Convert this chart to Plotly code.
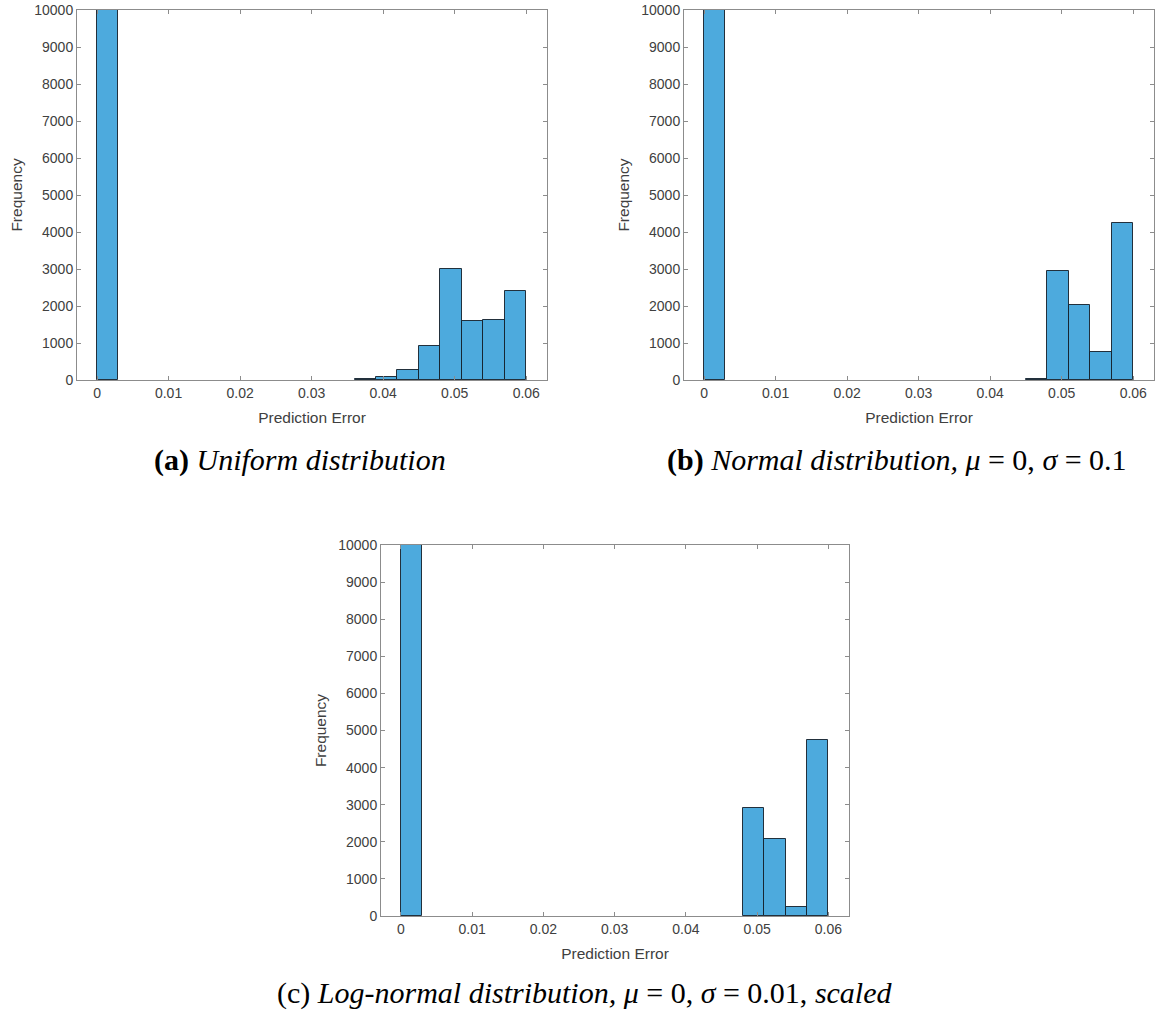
import plotly.graph_objects as go

# Histogram bins (left edges, width 0.003) shared by the three panels
bin_left = [0.000, 0.003, 0.006, 0.009, 0.012, 0.015, 0.018, 0.021, 0.024, 0.027,
            0.030, 0.033, 0.036, 0.039, 0.042, 0.045, 0.048, 0.051, 0.054, 0.057]
bin_width = 0.003

# Counts per bin
uniform_counts = [10000, 0, 0, 0, 0, 0, 0, 0, 0, 0,
                  0, 0, 25, 90, 270, 910, 3000, 1605, 1625, 2415]
normal_counts = [10000, 0, 0, 0, 0, 0, 0, 0, 0, 0,
                 0, 0, 0, 0, 0, 20, 2950, 2035, 750, 4240]
lognormal_counts = [10000, 0, 0, 0, 0, 0, 0, 0, 0, 0,
                    0, 0, 0, 0, 0, 0, 2920, 2065, 255, 4745]

x_ticks = [0, 0.01, 0.02, 0.03, 0.04, 0.05, 0.06]
x_tick_text = ["0", "0.01", "0.02", "0.03", "0.04", "0.05", "0.06"]
y_ticks = [0, 1000, 2000, 3000, 4000, 5000, 6000, 7000, 8000, 9000, 10000]
y_tick_text = ["0", "1000", "2000", "3000", "4000", "5000", "6000", "7000",
               "8000", "9000", "10000"]

captions = [
    "<b>(a)</b> <i>Uniform distribution</i>",
    "<b>(b)</b> <i>Normal distribution,</i> <i>μ</i> = 0, <i>σ</i> = 0.1",
    "(c) <i>Log-normal distribution,</i> <i>μ</i> = 0, <i>σ</i> = 0.01, <i>scaled</i>",
]

W, H = 1161, 1011
BAR_COLOR = "#4DAADD"
AXIS_COLOR = "#8c8c8c"
TEXT_COLOR = "#404040"
SANS = "Liberation Sans, Arial, sans-serif"
SERIF = "Liberation Serif, Times New Roman, serif"

# Plot-area boxes in pixels: (left, right, top, bottom)
boxes = [(77, 547, 10, 380), (684, 1154, 10, 380), (381, 849, 545, 916)]
series = [uniform_counts, normal_counts, lognormal_counts]

fig = go.Figure()

for i, (counts, (l, r, t, b)) in enumerate(zip(series, boxes), start=1):
    sfx = "" if i == 1 else str(i)
    # empty bins have no visible bar (and no outline)
    xs = [e + bin_width / 2 for e, c in zip(bin_left, counts) if c > 0]
    ys = [c for c in counts if c > 0]
    fig.add_trace(go.Bar(
        x=xs, y=ys, width=bin_width,
        marker=dict(color=BAR_COLOR, line=dict(color="rgba(20,30,40,0.9)", width=1)),
        xaxis="x" + sfx, yaxis="y" + sfx, showlegend=False,
    ))
    axis_common = dict(
        showline=True, linecolor=AXIS_COLOR, linewidth=1, mirror="allticks",
        ticks="inside", ticklen=4, tickcolor=AXIS_COLOR, showgrid=False,
        zeroline=False, tickfont=dict(family=SANS, size=14, color=TEXT_COLOR),
        automargin=False,
    )
    fig.layout["xaxis" + sfx] = dict(
        axis_common, domain=[l / W, r / W], anchor="y" + sfx,
        range=[-0.0028, 0.0629], tickvals=x_ticks, ticktext=x_tick_text,
        title=dict(text="Prediction Error", standoff=12,
                   font=dict(family=SANS, size=15.5, color=TEXT_COLOR)),
    )
    fig.layout["yaxis" + sfx] = dict(
        axis_common, domain=[1 - b / H, 1 - t / H], anchor="x" + sfx,
        range=[0, 10000], tickvals=y_ticks, ticktext=y_tick_text,
        title=dict(text="Frequency", standoff=7,
                   font=dict(family=SANS, size=15.5, color=TEXT_COLOR)),
    )

# Sub-figure captions
caption_pos = [(152, 460), (665, 460), (275, 993)]
for text, (cx, cy) in zip(captions, caption_pos):
    fig.add_annotation(
        text=text, xref="paper", yref="paper", x=cx / W, y=1 - cy / H,
        xanchor="left", yanchor="middle", showarrow=False,
        font=dict(family=SERIF, size=30, color="#000000"),
    )

fig.update_layout(
    width=W, height=H, margin=dict(l=0, r=0, t=0, b=0),
    paper_bgcolor="white", plot_bgcolor="white", bargap=0,
)

fig.write_html("out.html")
